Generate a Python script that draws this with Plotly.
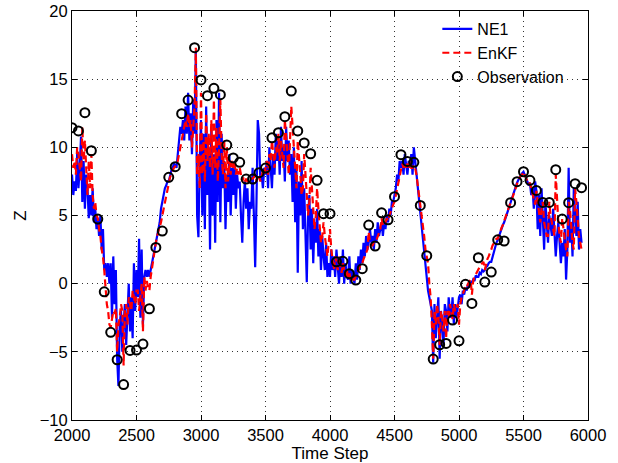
import plotly.graph_objects as go

# Time axis for the two filter series (step 10)
t_start, t_step = 2000, 10

ne1 = [
    8.0, 6.5, 7.5, 6.8, 9.5, 7.0, 8.5, 10.8, 6.0, 9.0,
    5.5, 8.0, 7.0, 4.8, 6.5, 5.0, 7.0, 4.5, 5.5, 4.0,
    4.8, 3.5, 5.0, 2.5, 4.0, 1.0, 1.5, 0.5, 1.5, 0.0,
    1.5, -2.5, 2.0, -1.5, 1.0, -5.5, -7.5, -3.0, -2.0, -5.0,
    -3.0, -1.5, -4.5, -2.5, 0.0, -3.5, -1.0, -4.0, 1.5, -2.0,
    1.0, -1.0, 3.3, -2.5, 2.5, -3.0, 0.5, 1.0, 0.5, 1.0,
    0.5, 1.0, 1.5, 2.0, 2.5, 3.0, 3.5, 4.0, 4.5, 5.5,
    6.0, 6.5, 7.0, 7.2, 7.5, 7.5, 8.0, 8.3, 8.5, 8.8,
    8.7, 8.5, 9.5, 10.5, 11.5, 11.0, 12.0, 10.5, 13.0, 11.0,
    14.0, 10.5, 12.5, 9.5, 13.5, 11.0, 17.0, 5.0, 3.4, 9.0,
    12.0, 5.0, 11.0, 4.0, 13.0, 6.5, 10.0, 2.5, 11.5, 5.0,
    9.5, 3.0, 12.0, 6.0, 14.0, 4.5, 11.0, 7.0, 9.0, 4.0,
    8.0, 6.0, 9.5, 5.0, 8.5, 6.5, 9.0, 5.5, 8.0, 7.0,
    7.5, 5.0, 3.0, 6.0, 7.5, 5.5, 7.0, 4.0, 6.0, 5.5,
    8.5, 5.0, 1.2, 6.0, 12.0, 11.0, 7.5, 8.0, 7.0, 8.5,
    8.0, 9.0, 7.0, 10.0, 8.5, 7.0, 9.5, 8.0, 11.0, 9.0,
    10.5, 8.0, 11.5, 9.0, 10.0, 7.5, 11.5, 9.0, 10.5, 8.0,
    9.5, 6.0, 10.0, 4.5, 8.5, 0.8, 7.5, 5.0, 9.0, 4.0,
    7.0, 3.0, 0.1, 5.0, 6.5, 2.5, 5.5, 1.5, 4.5, 3.0,
    5.5, 2.0, 4.0, 1.0, 3.5, 2.0, 1.0, 3.0, 0.5, 1.5,
    0.5, 2.5, 1.0, 2.0, 0.5, 2.5, 1.0, 0.0, 2.0, 0.5,
    2.5, 0.0, 1.5, 0.5, 0.3, 2.0, 0.0, 1.0, 0.5, 0.0,
    1.5, 0.3, 2.0, 1.0, 2.5, 1.5, 3.0, 2.0, 3.5, 2.5,
    3.0, 4.0, 3.0, 3.5, 2.5, 4.0, 3.0, 4.5, 3.5, 4.0,
    4.5, 3.5, 4.5, 4.0, 5.0, 4.5, 5.5, 5.0, 6.0, 6.0,
    6.5, 7.0, 8.0, 7.5, 9.0, 8.5, 9.0, 8.0, 9.5, 8.5,
    8.0, 9.0, 8.5, 9.5, 8.0, 10.0, 9.0, 8.0, 7.5, 6.5,
    5.5, 4.5, 3.5, 2.5, 1.5, 0.5, -0.5, -1.0, -1.5, -2.0,
    -5.8, -1.5, -4.0, -2.5, -1.0, -5.5, -2.0, -3.0, -4.5, -1.5,
    -2.0, -3.5, -1.0, -2.0, -2.5, -1.0, -3.0, -1.5, -2.5, -1.8,
    -1.0, -0.8, -1.5, -0.5, -0.8, -0.3, -0.5, 0.0, -0.3, 0.2,
    0.0, 0.3, 0.2, 0.6, 0.5, 0.5, 0.8, 0.7, 1.0, 0.9,
    1.0, 1.2, 1.3, 1.5, 1.6, 1.6, 2.0, 2.3, 2.7, 3.0,
    3.2, 3.5, 3.8, 4.0, 4.3, 4.5, 4.8, 5.1, 5.4, 5.7,
    5.9, 6.2, 6.5, 6.8, 7.1, 7.4, 7.6, 7.8, 8.0, 8.1,
    8.2, 8.0, 7.8, 7.5, 7.2, 7.4, 6.5, 7.0, 5.5, 7.5,
    6.8, 4.0, 6.5, 3.5, 7.0, 5.0, 2.5, 6.0, 4.5, 3.0,
    5.0, 4.0, 3.5, 5.5, 4.0, 2.0, 3.5, 4.5, 3.0, 1.5,
    3.0, 2.0, 4.0, 0.3, 2.5, 8.5, 3.0, 4.5, 2.0, 7.0,
    5.0, 3.5, 6.0, 2.5, 4.0, 3.0,
]

enkf = [
    9.5, 8.5, 9.0, 8.0, 10.0, 9.5, 8.5, 7.5, 11.5, 9.0,
    10.5, 8.0, 6.5, 9.0, 7.0, 9.5, 6.5, 5.5, 6.0, 5.0,
    4.8, 4.0, 3.5, 2.5, 2.0, 1.0, -0.5, -1.5, -2.0, -3.0,
    -3.2, -2.5, -2.0, -2.2, -1.8, -5.0, -3.0, -2.5, -1.5, -2.0,
    -6.0, -2.0, -1.5, -3.0, -1.0, -1.5, -2.0, -0.5, -1.0, -1.5,
    -0.5, -0.5, -2.0, -1.0, 0.0, -3.5, 0.5, -0.5, 0.2, -0.3,
    -0.5, 0.5, 1.2, 1.8, 2.5, 3.0, 3.5, 3.8, 4.2, 4.5,
    5.0, 5.5, 6.0, 6.5, 7.0, 7.5, 7.8, 8.0, 8.3, 8.5,
    8.6, 8.8, 9.0, 9.5, 10.0, 10.5, 11.0, 11.5, 12.0, 11.5,
    12.5, 11.5, 12.0, 10.0, 12.0, 13.0, 17.3, 8.0, 9.5, 7.0,
    14.0, 8.0, 10.5, 7.5, 12.5, 9.0, 11.0, 8.5, 12.0, 8.0,
    13.5, 8.5, 11.5, 7.5, 10.0, 13.5, 9.5, 8.0, 10.5, 7.0,
    10.0, 7.5, 9.0, 8.0, 9.0, 8.5, 9.0, 8.0, 8.5, 8.0,
    8.5, 8.0, 7.5, 7.8, 7.5, 7.7, 7.5, 7.5, 7.6, 7.7,
    7.7, 7.8, 8.0, 7.5, 7.8, 8.0, 7.5, 8.0, 8.3, 8.0,
    8.5, 9.0, 8.0, 9.5, 9.0, 10.5, 9.5, 8.5, 10.0, 9.5,
    11.0, 9.0, 10.5, 9.5, 8.5, 12.0, 11.0, 9.5, 8.0, 10.0,
    13.0, 11.5, 10.0, 8.5, 7.0, 10.5, 9.5, 8.0, 6.5, 7.0,
    9.5, 8.0, 6.5, 5.0, 6.0, 8.5, 7.0, 5.5, 4.0, 5.0,
    7.0, 5.5, 4.0, 3.0, 3.5, 4.5, 3.5, 2.5, 2.0, 3.0,
    4.0, 2.5, 1.5, 1.0, 2.0, 1.5, 1.0, 2.0, 1.2, 0.8,
    1.5, 1.0, 0.5, 1.0, 0.5, 0.8, 0.3, 0.5, 0.3, 0.3,
    0.5, 0.8, 1.0, 1.2, 1.5, 1.5, 1.8, 2.0, 2.2, 2.5,
    3.8, 3.0, 2.8, 2.8, 3.0, 3.0, 3.2, 3.5, 3.8, 4.0,
    4.8, 4.3, 4.5, 4.5, 4.8, 4.6, 5.0, 5.3, 5.5, 5.8,
    6.0, 6.5, 7.0, 7.5, 7.8, 8.5, 8.8, 8.5, 8.8, 8.5,
    8.8, 8.5, 9.0, 8.5, 8.5, 8.7, 8.5, 8.0, 7.3, 6.5,
    5.8, 5.0, 4.5, 3.5, 2.5, 2.0, 1.5, 0.0, -1.0, -3.0,
    -5.5, -2.0, -3.0, -1.5, -2.5, -4.5, -2.0, -2.5, -3.5, -2.0,
    -4.0, -2.0, -2.5, -1.5, -2.0, -2.6, -1.5, -2.0, -1.8, -1.5,
    -3.0, -1.5, -1.0, -0.8, -0.5, -0.2, -0.3, 0.0, 0.2, 0.3,
    -0.8, 0.2, 0.5, 0.7, 0.8, 1.0, 1.2, 1.4, 1.5, 1.6,
    1.0, 1.5, 1.8, 2.0, 2.2, 2.5, 2.8, 3.0, 3.2, 3.3,
    3.3, 3.6, 3.9, 4.1, 4.3, 4.6, 4.9, 5.2, 5.5, 5.7,
    5.9, 6.2, 6.5, 6.8, 7.0, 7.4, 7.6, 7.8, 7.9, 8.0,
    8.2, 8.0, 7.7, 7.5, 7.3, 7.4, 7.0, 6.5, 6.0, 5.8,
    6.8, 6.0, 5.0, 4.5, 5.5, 6.0, 4.5, 4.0, 3.5, 3.5,
    6.0, 5.0, 4.5, 4.0, 3.5, 8.0, 6.0, 4.5, 3.5, 3.0,
    4.8, 4.0, 3.0, 2.5, 2.0, 6.0, 5.5, 4.0, 3.0, 2.5,
    7.0, 6.0, 4.5, 3.5, 3.0, 2.5,
]

# Observations every 50 steps
obs_t = list(range(2000, 6000, 50))
obs_z = [
    11.44, 11.2, 12.54, 9.75, 4.74, -0.6, -3.57, -5.58, -7.4, -4.9,
    -4.87, -4.43, -1.84, 2.66, 3.86, 7.8, 8.58, 12.47, 13.47, 17.31,
    14.94, 13.79, 14.33, 13.86, 10.17, 9.22, 8.9, 7.67, 7.67, 8.14,
    8.48, 10.7, 11.07, 12.25, 14.13, 11.2, 10.32, 9.53, 7.58, 5.13,
    5.13, 1.6, 1.64, 0.73, 0.26, 1.1, 4.3, 2.76, 5.2, 4.68,
    6.38, 9.46, 8.97, 8.9, 5.74, 2.05, -5.53, -4.48, -4.38, -2.67,
    -4.19, -0.05, -1.45, 1.9, 0.12, 0.85, 3.22, 3.13, 5.94, 7.48,
    8.21, 7.58, 6.84, 5.96, 5.96, 8.36, 4.74, 5.94, 7.33, 7.04,
]

t_series = [t_start + i * t_step for i in range(len(ne1))]

font_family = "Liberation Sans, Arial, Helvetica, sans-serif"
fsize = 16.5

fig = go.Figure()
fig.add_trace(go.Scatter(x=t_series, y=ne1, mode="lines", name="NE1",
                         line=dict(color="#0000ff", width=2.2)))
fig.add_trace(go.Scatter(x=t_series, y=enkf, mode="lines", name="EnKF",
                         line=dict(color="#ff0000", width=2.2, dash="7px,4px")))
fig.add_trace(go.Scatter(x=obs_t, y=obs_z, mode="markers", name="Observation",
                         marker=dict(symbol="circle-open", size=9, color="black",
                                     line=dict(width=2, color="black"))))

axis_common = dict(
    showline=True, linecolor="black", linewidth=1, mirror="ticks",
    ticks="inside", ticklen=5, tickcolor="black",
    showgrid=True, gridcolor="#333333", gridwidth=1, griddash="1px,4px",
    zeroline=False, automargin=False,
    tickfont=dict(size=fsize, color="black", family=font_family),
)

fig.update_xaxes(range=[2000, 6000], tickvals=[2000, 2500, 3000, 3500, 4000, 4500, 5000, 5500, 6000],
                 title=dict(text="Time Step", font=dict(size=17, color="black", family=font_family), standoff=4),
                 **axis_common)
fig.update_yaxes(range=[-10, 20], tickvals=[-10, -5, 0, 5, 10, 15, 20],
                 title=dict(text="Z", font=dict(size=17, color="black", family=font_family), standoff=8),
                 **axis_common)

fig.update_layout(
    width=618, height=463,
    margin=dict(l=72, r=30, t=11, b=43, autoexpand=False),
    paper_bgcolor="white", plot_bgcolor="white",
    font=dict(family=font_family, color="black", size=fsize),
    legend=dict(x=0.708, y=0.974, xanchor="left", yanchor="top", yref="container",
                bgcolor="rgba(0,0,0,0)", borderwidth=0,
                font=dict(size=16, color="black", family=font_family),
                tracegroupgap=0, itemwidth=30),
    showlegend=True,
)

fig.write_html("out.html")
